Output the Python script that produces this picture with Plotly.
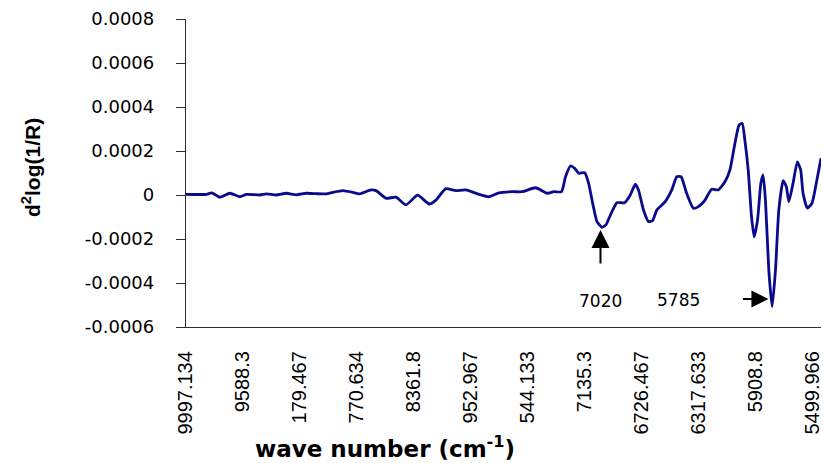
import plotly.graph_objects as go

# wave number (cm-1) and second-derivative values
wavenumber = [9997, 9849, 9813, 9754, 9682, 9611, 9563, 9467, 9419, 9348, 9276, 9205,
              9133, 9061, 8990, 8942, 8871, 8799, 8751, 8668, 8632, 8560, 8489, 8417,
              8334, 8250, 8202, 8131, 8059, 7987, 7892, 7821, 7749, 7654, 7582, 7486,
              7403, 7355, 7300, 7271, 7236, 7205, 7176, 7133, 7105, 7076, 7045, 7009,
              6981, 6949, 6902, 6847, 6806, 6770, 6747, 6711, 6675, 6646, 6615, 6555,
              6508, 6472, 6441, 6401, 6353, 6317, 6269, 6222, 6174, 6126, 6090, 6054,
              6025, 6002, 5983, 5959, 5935, 5916, 5892, 5868, 5852, 5835, 5811, 5787,
              5763, 5739, 5708, 5685, 5667, 5637, 5606, 5582, 5565, 5534, 5501, 5470,
              5436]
d2log_micro = [3, 3, 10, -10, 8, -8, 3, 0, 5, 0, 8, 1,
               8, 6, 5, 12, 20, 12, 5, 23, 20, -15, -10, -45,
               -1, -41, -23, 29, 20, 23, 3, -8, 10, 15, 15, 33,
               8, 15, 15, 83, 132, 121, 99, 101, 53, -38, -121, -147,
               -136, -91, -35, -35, 0, 49, 23, -68, -121, -117, -68, -30,
               23, 83, 83, 8, -60, -53, -23, 26, 23, 60, 114, 235,
               318, 326, 250, 114, -99, -190, -114, 53, 91, -23, -341, -508,
               -341, -68, 65, 38, -30, 53, 151, 114, 8, -60, -38, 53,
               167]
d2log = [v * 1e-6 for v in d2log_micro]

x_tickvals = [9997.134, 9588.301, 9179.467, 8770.634, 8361.8, 7952.967, 7544.133,
              7135.3, 6726.467, 6317.633, 5908.8, 5499.966]
x_ticktext = ["9997.134", "9588.3", "179.467", "770.634", "8361.8", "952.967", "544.133",
              "7135.3", "6726.467", "6317.633", "5908.8", "5499.966"]
y_tickvals = [-0.0006, -0.0004, -0.0002, 0, 0.0002, 0.0004, 0.0006, 0.0008]
y_ticktext = ["-0.0006", "-0.0004", "-0.0002", "0", "0.0002", "0.0004", "0.0006", "0.0008"]

peak_a = 7020
peak_b = 5785

FONT = "Liberation Sans, Arial, sans-serif"
WIDE = "DejaVu Sans, Liberation Sans, sans-serif"

fig = go.Figure()
fig.add_trace(go.Scatter(
    x=wavenumber, y=d2log, mode="lines",
    line=dict(color="#0A0A8C", width=2.8, shape="spline", smoothing=0.5),
    showlegend=False, hoverinfo="skip",
))

fig.update_layout(
    width=823, height=463,
    margin=dict(l=186, r=0, t=19, b=136),
    paper_bgcolor="white", plot_bgcolor="white",
    font=dict(family=FONT, color="black"),
    xaxis=dict(
        range=[9997.134, 5436], autorange=False,
        tickmode="array", tickvals=x_tickvals, ticktext=x_ticktext,
        tickangle=-90, ticks="", showgrid=False, zeroline=False,
        showline=True, linecolor="#303030", linewidth=1.3,
        tickfont=dict(size=20, family=FONT, color="black"),
        ticklabelstandoff=15, ticklabeloverflow="allow",
    ),
    yaxis=dict(
        range=[-0.0006, 0.0008], autorange=False,
        tickmode="array", tickvals=y_tickvals, ticktext=y_ticktext,
        ticks="outside", ticklen=9, tickcolor="#303030", tickwidth=1.2,
        showgrid=False, zeroline=False,
        showline=True, linecolor="#303030", linewidth=1.3,
        tickfont=dict(size=18, family=WIDE, color="black"),
        ticklabelstandoff=18,
    ),
)

# axis titles
fig.add_annotation(
    xref="paper", yref="paper", x=0.314, y=-0.39,
    text="<b>wave number (cm<sup>-1</sup>)</b>", showarrow=False,
    font=dict(size=23, family=WIDE, color="black"), xanchor="center", yanchor="middle",
)
fig.add_annotation(
    xref="paper", yref="paper", x=-0.2433, y=0.518,
    text="<b>d<sup>2</sup>log(1/R)</b>", showarrow=False, textangle=-90,
    font=dict(size=21, family=FONT, color="black"), xanchor="center", yanchor="middle",
)

# arrows
fig.add_annotation(
    x=peak_a, y=-0.000159, xref="x", yref="y", text="", showarrow=True,
    ax=0, ay=35, arrowhead=2, arrowsize=1.8, arrowwidth=2, arrowcolor="black",
)
fig.add_annotation(
    x=peak_b, y=-0.000473, xref="x", yref="y", text="", showarrow=True,
    ax=-31, ay=0, arrowhead=2, arrowsize=1.7, arrowwidth=2, arrowcolor="black",
    standoff=4,
)
# peak labels
fig.add_annotation(
    x=peak_a, y=-0.000482, xref="x", yref="y", text=str(peak_a), showarrow=False,
    font=dict(size=17, family=WIDE, color="black"), xanchor="center", yanchor="middle",
)
fig.add_annotation(
    xref="paper", yref="paper", x=0.7755, y=0.088, text=str(peak_b), showarrow=False,
    font=dict(size=17, family=WIDE, color="black"), xanchor="center", yanchor="middle",
)

fig.write_html("out.html")
